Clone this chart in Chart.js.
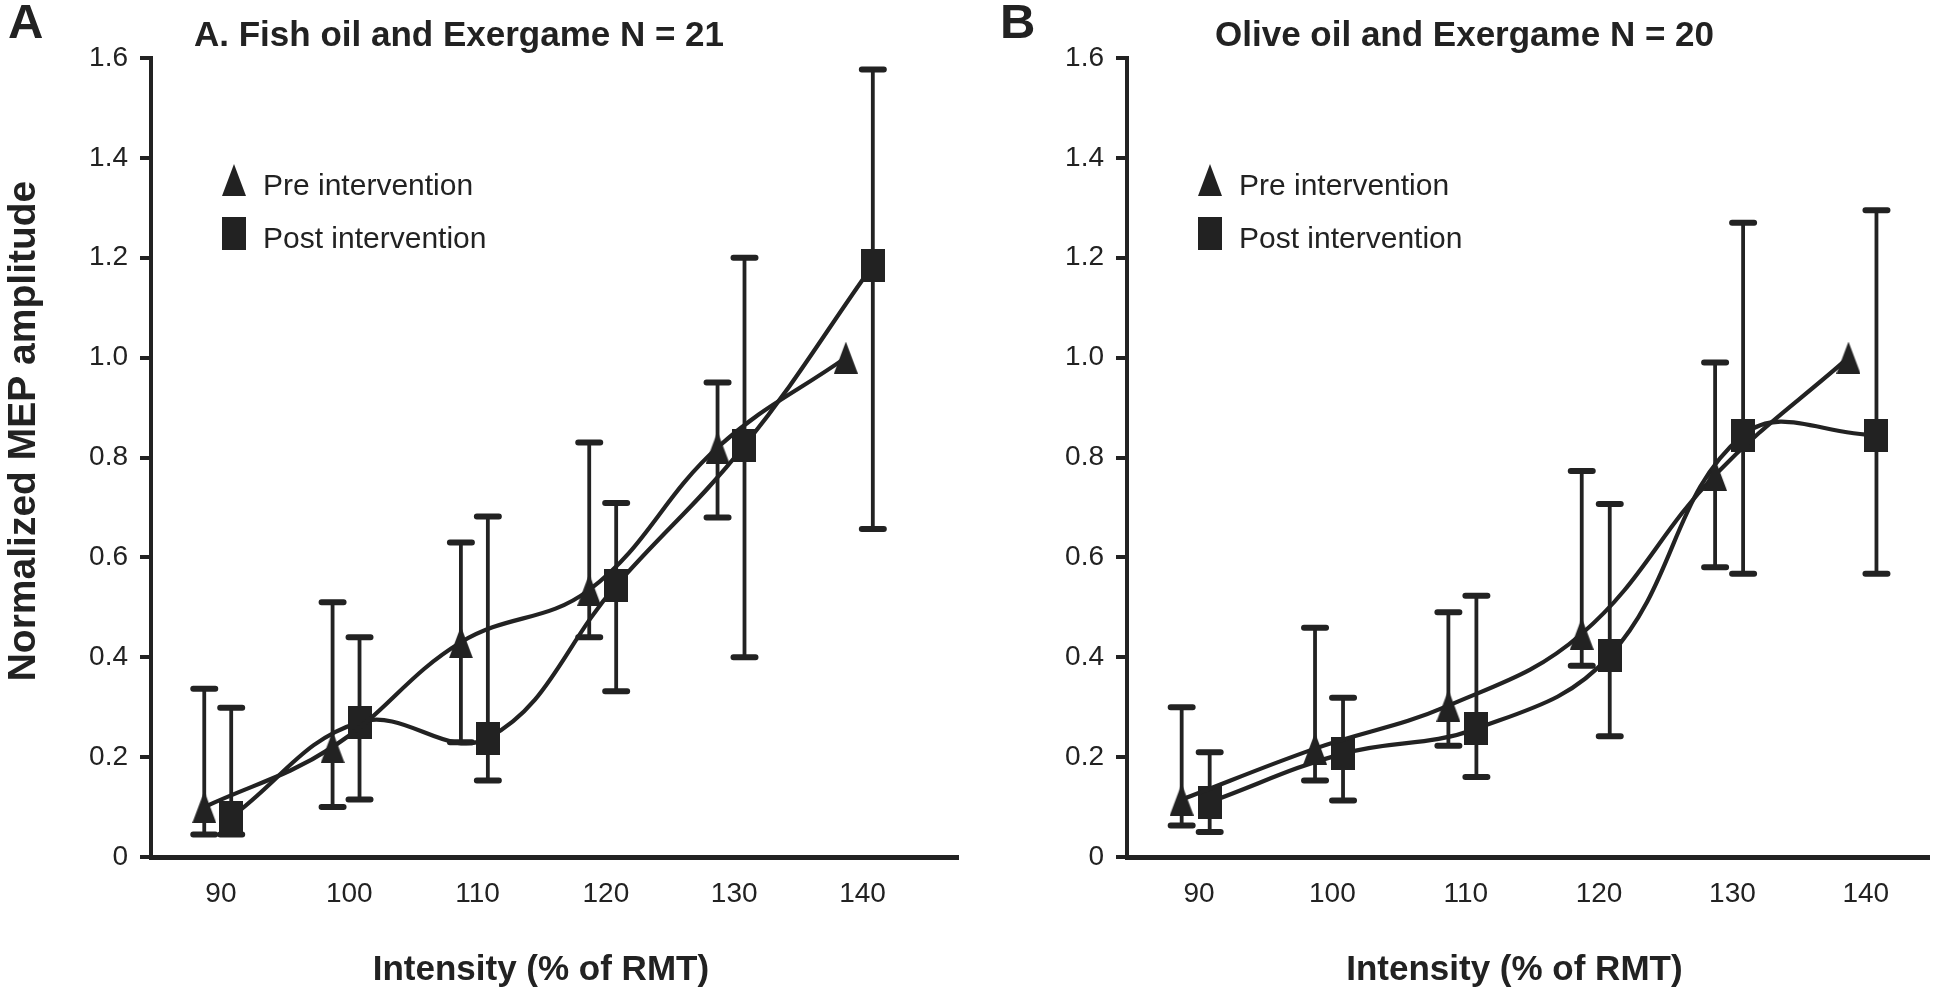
<!DOCTYPE html>
<html>
<head>
<meta charset="utf-8">
<script src="https://cdn.jsdelivr.net/npm/chart.js@4.4.1/dist/chart.umd.min.js"></script>
<style>
  html, body { margin: 0; padding: 0; background: #fff; overflow: hidden; }
  #wrap { position: relative; width: 1946px; height: 1000px; }
  canvas { position: absolute; top: 0; }
  #fishChart { left: 0; }
  #oliveChart { left: 975px; }
</style>
</head>
<body>
<div id="wrap">
  <canvas id="fishChart" width="975" height="1000"></canvas>
  <canvas id="oliveChart" width="971" height="1000"></canvas>
</div>
<script>
// Stimulus intensities and y tick values
const intensities = [90, 100, 110, 120, 130, 140];
const yTicks = [0, 0.2, 0.4, 0.6, 0.8, 1.0, 1.2, 1.4, 1.6];

// A. Fish oil and Exergame
const fishPre      = [0.10, 0.22, 0.43, 0.535, 0.82, 1.0];
const fishPreLow   = [0.045, 0.10, 0.23, 0.44, 0.68, 1.0];
const fishPreHigh  = [0.337, 0.51, 0.63, 0.83, 0.95, 1.0];
const fishPost     = [0.08, 0.27, 0.238, 0.544, 0.824, 1.185];
const fishPostLow  = [0.045, 0.115, 0.153, 0.332, 0.40, 0.657];
const fishPostHigh = [0.299, 0.44, 0.682, 0.709, 1.20, 1.577];

// B. Olive oil and Exergame
const olivePre      = [0.115, 0.217, 0.303, 0.447, 0.765, 1.0];
const olivePreLow   = [0.063, 0.153, 0.223, 0.383, 0.58, 1.0];
const olivePreHigh  = [0.30, 0.459, 0.49, 0.773, 0.99, 1.0];
const olivePost     = [0.11, 0.207, 0.257, 0.403, 0.845, 0.845];
const olivePostLow  = [0.05, 0.113, 0.16, 0.242, 0.567, 0.567];
const olivePostHigh = [0.21, 0.319, 0.523, 0.707, 1.27, 1.295];

const INK = '#222222';
const FONT = "'Liberation Sans', Arial, Helvetica, sans-serif";
// markers sit slightly left (pre) and right (post) of each intensity
const PRE_SHIFT = -1.3;
const POST_SHIFT = 0.8;

Chart.defaults.font.family = FONT;
Chart.defaults.color = INK;

function makeTriangle(w, h) {
    const c = document.createElement('canvas');
    c.width = w; c.height = h;
    const g = c.getContext('2d');
    g.fillStyle = INK;
    g.beginPath();
    g.moveTo(w / 2, 0);
    g.lineTo(w, h);
    g.lineTo(0, h);
    g.closePath();
    g.fill();
    return c;
}

function makeBlock(w, h) {
    const c = document.createElement('canvas');
    c.width = w; c.height = h;
    const g = c.getContext('2d');
    g.fillStyle = INK;
    g.fillRect(0, 0, w, h);
    return c;
}

const triangleImg = makeTriangle(24, 32);
const blockImg = makeBlock(24, 33);

function points(values, lows, highs, shift) {
    return intensities.map((v, i) => ({ x: v + shift, y: values[i], lo: lows[i], hi: highs[i] }));
}

// Draw the vertical error bars with caps, using the chart's scales
const errorBars = {
    id: 'errorBars',
    beforeDatasetsDraw(chart) {
        const ctx = chart.ctx;
        const xs = chart.scales.x, ys = chart.scales.y;
        ctx.save();
        ctx.strokeStyle = INK;
        chart.data.datasets.forEach(ds => {
            ds.data.forEach(p => {
                if (p.lo === p.hi) return;
                const x = xs.getPixelForValue(p.x);
                const y1 = ys.getPixelForValue(p.lo);
                const y2 = ys.getPixelForValue(p.hi);
                ctx.lineWidth = 3.8;
                ctx.lineCap = 'butt';
                ctx.beginPath();
                ctx.moveTo(x, y1);
                ctx.lineTo(x, y2);
                ctx.stroke();
                ctx.lineWidth = 6;
                ctx.lineCap = 'round';
                ctx.beginPath();
                ctx.moveTo(x - 11, y1); ctx.lineTo(x + 11, y1);
                ctx.moveTo(x - 11, y2); ctx.lineTo(x + 11, y2);
                ctx.stroke();
            });
        });
        ctx.restore();
    }
};

// Panel letter, titles and the in-plot legend
const panelDecor = {
    id: 'panelDecor',
    afterDraw(chart, args, o) {
        const ctx = chart.ctx;
        const area = chart.chartArea;
        ctx.save();
        ctx.fillStyle = INK;
        ctx.textAlign = 'left';
        ctx.textBaseline = 'alphabetic';
        ctx.font = 'bold 49px ' + FONT;
        ctx.fillText(o.letter, o.letterX, 38);
        ctx.font = 'bold 35px ' + FONT;
        ctx.fillText(o.title, o.titleX, 46);

        // axis titles
        ctx.textAlign = 'center';
        ctx.textBaseline = 'middle';
        ctx.fillText('Intensity (% of RMT)', (area.left + area.right) / 2 - 14, 970);
        if (o.yTitle) {
            ctx.save();
            ctx.translate(24, 431);
            ctx.rotate(-Math.PI / 2);
            ctx.font = 'bold 39px ' + FONT;
            ctx.fillText('Normalized MEP amplitude', 0, 0);
            ctx.restore();
        }

        // legend
        const lx = area.left + 83;
        ctx.textAlign = 'left';
        ctx.font = '30px ' + FONT;
        chart.data.datasets.forEach((ds, i) => {
            const img = ds.pointStyle;
            const cy = [180, 233][i];
            ctx.drawImage(img, lx - img.width / 2, cy - img.height / 2);
            ctx.fillText(ds.label, lx + 29, cy + 7);
        });
        ctx.restore();
    }
};

function createPanel(id, opts) {
    const ctx = document.getElementById(id).getContext('2d');
    return new Chart(ctx, {
        type: 'line',
        data: {
            datasets: [{
                label: 'Pre intervention',
                data: points(opts.pre, opts.preLow, opts.preHigh, PRE_SHIFT),
                borderColor: INK,
                borderWidth: 4.2,
                tension: 0.4,
                pointStyle: triangleImg,
                pointRadius: 12,
                pointBackgroundColor: INK,
                clip: false
            }, {
                label: 'Post intervention',
                data: points(opts.post, opts.postLow, opts.postHigh, POST_SHIFT),
                borderColor: INK,
                borderWidth: 4.2,
                tension: 0.4,
                pointStyle: blockImg,
                pointRadius: 12,
                pointBackgroundColor: INK,
                clip: false
            }]
        },
        options: {
            responsive: false,
            animation: false,
            events: [],
            layout: { padding: { left: 0, right: opts.padRight, top: 58, bottom: 0 } },
            plugins: {
                legend: { display: false },
                tooltip: { enabled: false },
                panelDecor: {
                    letter: opts.letter, letterX: opts.letterX,
                    title: opts.title, titleX: opts.titleX, yTitle: opts.yTitle
                }
            },
            scales: {
                x: {
                    type: 'linear',
                    min: opts.xMin,
                    max: opts.xMax,
                    afterBuildTicks: s => { s.ticks = intensities.map(v => ({ value: v })); },
                    ticks: { font: { size: 28 }, padding: 20, color: INK, maxRotation: 0, autoSkip: false },
                    grid: { display: false, drawTicks: false },
                    border: { display: true, width: 5, color: INK },
                    afterFit: s => { s.height = 143; }
                },
                y: {
                    min: 0,
                    max: 1.6,
                    afterBuildTicks: s => { s.ticks = yTicks.map(v => ({ value: v })); },
                    ticks: {
                        font: { size: 28 },
                        padding: 12,
                        color: INK,
                        callback: v => v === 0 ? '0' : v.toFixed(1)
                    },
                    grid: { drawOnChartArea: false, drawTicks: true, tickLength: 11, lineWidth: 4, color: INK },
                    border: { display: true, width: 4, color: INK },
                    afterFit: s => { s.width = opts.yWidth; }
                }
            }
        },
        plugins: [errorBars, panelDecor]
    });
}

createPanel('fishChart', {
    pre: fishPre, preLow: fishPreLow, preHigh: fishPreHigh,
    post: fishPost, postLow: fishPostLow, postHigh: fishPostHigh,
    letter: 'A', letterX: 8, title: 'A. Fish oil and Exergame N = 21', titleX: 194,
    xMin: 84.55, xMax: 147.5, yWidth: 151, padRight: 6, yTitle: true
});

createPanel('oliveChart', {
    pre: olivePre, preLow: olivePreLow, preHigh: olivePreHigh,
    post: olivePost, postLow: olivePostLow, postHigh: olivePostHigh,
    letter: 'B', letterX: 25, title: 'Olive oil and Exergame N = 20', titleX: 240,
    xMin: 84.6, xMax: 144.8, yWidth: 152, padRight: 0, yTitle: false
});
</script>
</body>
</html>
